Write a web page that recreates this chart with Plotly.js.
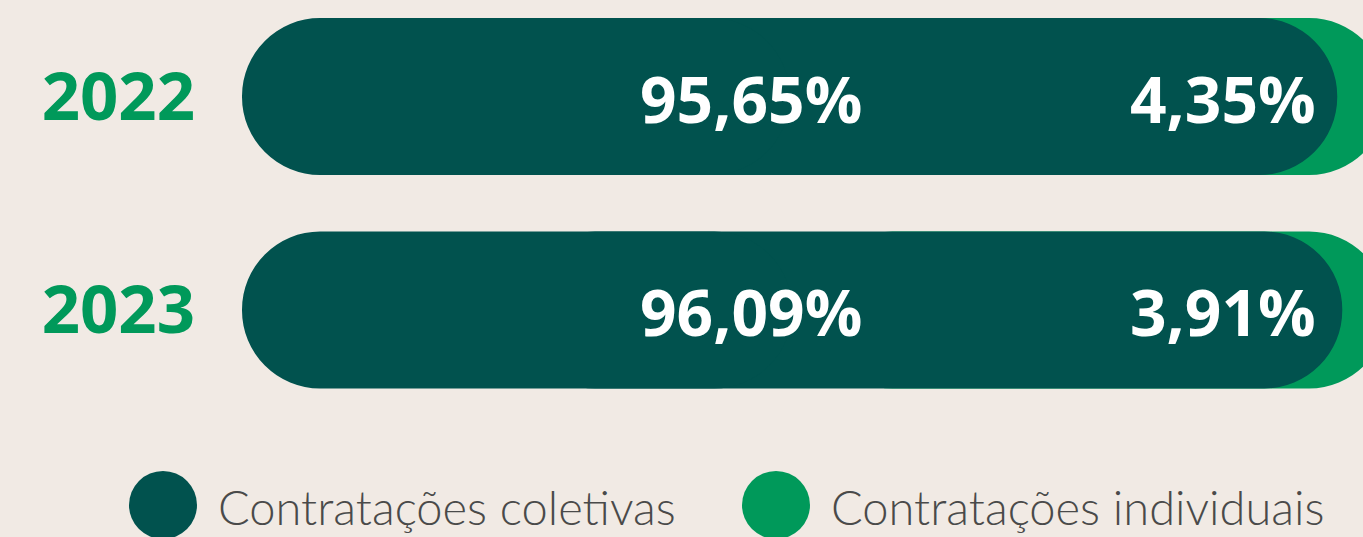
<!DOCTYPE html>
<html>
<head>
<meta charset="utf-8">
<script src="https://cdn.plot.ly/plotly-3.0.1.min.js"></script>
<style>
  html, body { margin: 0; padding: 0; background: #f1eae4; }
  #chart { width: 1363px; height: 537px; }
</style>
</head>
<body>
<div id="chart"></div>
<script>
// ---- data ----
const years = ['2022', '2023'];
const coletivas = [95.65, 96.09];
const individuais = [4.35, 3.91];
const coletivasLabels = ['95,65%', '96,09%'];
const individuaisLabels = ['4,35%', '3,91%'];
const seriesNames = ['Contratações coletivas', 'Contratações individuais'];
const categoryOrder = ['2023', '2022'];

// ---- style ----
const DARK = '#01524e';
const GREEN = '#00995a';
const BG = '#f1eae4';

const W = 1363, H = 537;
const M = { l: 242, r: 0, t: 0, b: 97 };
const plotW = W - M.l - M.r, plotH = H - M.t - M.b;
const px = x => (x - M.l) / plotW;
const py = y => (plotH + M.t - y) / plotH;

const totals = coletivas.map((v, i) => v + individuais[i]);

const common = {
  type: 'bar', orientation: 'h', y: years,
  hoverinfo: 'skip', showlegend: false
};

const traces = [
  // individual (background, full total, rounded right end)
  Object.assign({}, common, {
    name: seriesNames[1],
    base: totals.map(t => t / 2),
    x: totals.map(t => t / 2),
    marker: { color: GREEN, cornerradius: '50%', line: { width: 0 } }
  }),
  // collective: right piece (rounded right end)
  Object.assign({}, common, {
    name: seriesNames[0],
    base: coletivas.map(v => v * 0.25),
    x: coletivas.map(v => v * 0.75),
    marker: { color: DARK, cornerradius: '50%', line: { width: 0 } }
  }),
  // collective: left piece (rounded left end)
  Object.assign({}, common, {
    name: seriesNames[0],
    base: coletivas.map(v => v * 0.5),
    x: coletivas.map(v => -v * 0.5),
    marker: { color: DARK, cornerradius: '50%', line: { width: 0 } }
  })
];

const valueFont = { family: 'Open Sans, sans-serif', size: 64, color: '#ffffff', weight: 700 };
const annotations = [];
years.forEach((yr, i) => {
  const yi = categoryOrder.indexOf(yr);
  annotations.push({
    xref: 'paper', yref: 'y', x: px(638), y: yi, xanchor: 'left', yanchor: 'middle',
    text: coletivasLabels[i], showarrow: false, font: valueFont, yshift: -2
  });
  annotations.push({
    xref: 'paper', yref: 'y', x: px(1128), y: yi, xanchor: 'left', yanchor: 'middle',
    text: individuaisLabels[i], showarrow: false, font: valueFont, yshift: -2
  });
});

// legend (drawn manually for large circle swatches)
const legendItems = [
  { name: seriesNames[0], color: DARK, cx: 163, tx: 216 },
  { name: seriesNames[1], color: GREEN, cx: 776, tx: 829 }
];
const shapes = [];
legendItems.forEach(it => {
  shapes.push({
    type: 'circle', xref: 'paper', yref: 'paper',
    x0: px(it.cx - 34), x1: px(it.cx + 34), y0: py(539), y1: py(471),
    fillcolor: it.color, line: { width: 0 }
  });
  annotations.push({
    xref: 'paper', yref: 'paper', x: px(it.tx), y: py(507), xanchor: 'left', yanchor: 'middle',
    text: it.name, showarrow: false,
    font: { family: 'Lato, sans-serif', size: 47, color: '#4a4a4a', weight: 300 }
  });
});

const layout = {
  width: W, height: H,
  margin: M,
  paper_bgcolor: BG, plot_bgcolor: BG,
  barmode: 'overlay', bargap: 0.265,
  showlegend: false,
  xaxis: {
    range: [0, 97.9], showgrid: false, zeroline: false, showticklabels: false,
    showline: false, fixedrange: true
  },
  yaxis: {
    type: 'category', categoryorder: 'array', categoryarray: categoryOrder,
    range: [-0.609, 1.452], showgrid: false, zeroline: false, showline: false,
    ticks: '', ticklabelstandoff: 46,
    tickfont: { family: 'Open Sans, sans-serif', size: 67, color: GREEN, weight: 700 },
    fixedrange: true
  },
  annotations: annotations,
  shapes: shapes
};

Plotly.newPlot('chart', traces, layout, { displayModeBar: false, staticPlot: true });
</script>
</body>
</html>
